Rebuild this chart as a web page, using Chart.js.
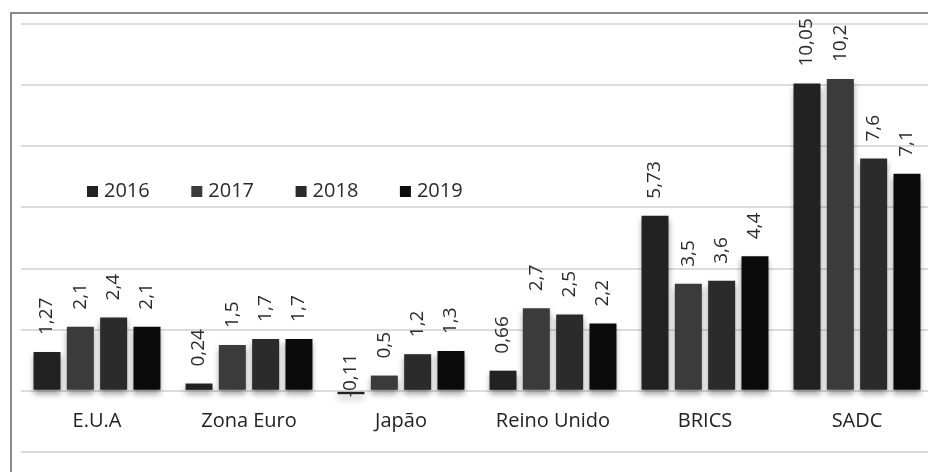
<!DOCTYPE html>
<html>
<head>
<meta charset="utf-8">
<script src="https://cdn.jsdelivr.net/npm/chart.js@4/dist/chart.umd.min.js"></script>
<style>
  html, body { margin: 0; padding: 0; background: #fff; overflow: hidden; width: 928px; height: 472px; }
  #wrap { position: relative; width: 940px; height: 472px; }
</style>
</head>
<body>
<div id="wrap"><canvas id="c" width="940" height="472"></canvas></div>
<script>
const categories = ["E.U.A", "Zona Euro", "Japão", "Reino Unido", "BRICS", "SADC"];
const seriesNames = ["2016", "2017", "2018", "2019"];
const values2016 = [1.27, 0.24, -0.11, 0.66, 5.73, 10.05];
const values2017 = [2.1, 1.5, 0.5, 2.7, 3.5, 10.2];
const values2018 = [2.4, 1.7, 1.2, 2.5, 3.6, 7.6];
const values2019 = [2.1, 1.7, 1.3, 2.2, 4.4, 7.1];
const yTicks = [-2, 0, 2, 4, 6, 8, 10, 12];

const colors = ["#222222", "#3b3b3b", "#2b2b2b", "#0b0b0b"];
const allValues = [values2016, values2017, values2018, values2019];

const FONT = "'Open Sans', 'DejaVu Sans', sans-serif";

const frame = {
  id: 'frame',
  beforeDraw(chart) {
    const ctx = chart.ctx;
    ctx.save();
    ctx.strokeStyle = '#8a8a8a';
    ctx.lineWidth = 2;
    ctx.strokeRect(11, 13, 2000, 2000);
    ctx.restore();
  }
};

const shadow = {
  id: 'shadow',
  beforeDatasetsDraw(chart) {
    const ctx = chart.ctx;
    ctx.save();
    ctx.shadowColor = 'rgba(0,0,0,0.38)';
    ctx.shadowBlur = 6;
    ctx.shadowOffsetX = 0;
    ctx.shadowOffsetY = 4;
  },
  afterDatasetsDraw(chart) {
    chart.ctx.restore();
    const ctx = chart.ctx;
    ctx.save();
    ctx.font = "19px " + FONT;
    ctx.fillStyle = '#2a2a2a';
    ctx.textBaseline = 'middle';
    ctx.textAlign = 'left';
    chart.data.datasets.forEach((ds, di) => {
      const meta = chart.getDatasetMeta(di);
      meta.data.forEach((el, i) => {
        const v = ds.data[i];
        const txt = String(v).replace('.', ',');
        ctx.save();
        if (v >= 0) {
          ctx.translate(el.x, el.y - 17);
        } else {
          ctx.translate(el.x, el.y + 3);
        }
        ctx.rotate(-Math.PI / 2);
        ctx.fillText(txt, 0, 0);
        ctx.restore();
      });
    });
    ctx.restore();
  }
};

const legendPlugin = {
  id: 'customLegend',
  afterDraw(chart) {
    const ctx = chart.ctx;
    ctx.save();
    ctx.font = "20px " + FONT;
    ctx.textBaseline = 'middle';
    ctx.textAlign = 'left';
    chart.data.datasets.forEach((ds, i) => {
      const x = 87 + i * 104.3;
      const y = 191.5;
      ctx.fillStyle = ds.backgroundColor;
      ctx.fillRect(x, y - 5.5, 11, 11);
      ctx.fillStyle = '#2a2a2a';
      ctx.fillText(ds.label, x + 17, y);
    });
    ctx.restore();
  }
};

new Chart(document.getElementById('c'), {
  type: 'bar',
  data: {
    labels: categories,
    datasets: seriesNames.map((name, i) => ({
      label: name,
      data: allValues[i],
      backgroundColor: colors[i],
      borderWidth: 0,
      categoryPercentage: 0.877,
      barPercentage: 0.81
    }))
  },
  options: {
    responsive: false,
    animation: false,
    devicePixelRatio: 1,
    layout: { padding: { left: 21, right: 7, top: 24, bottom: 20 } },
    plugins: { legend: { display: false }, tooltip: { enabled: false } },
    scales: {
      x: {
        position: { y: 0 },
        grid: { display: false, drawTicks: false },
        border: { display: false },
        ticks: { color: '#222222', font: { family: FONT, size: 20 }, padding: 18, maxRotation: 0, autoSkip: false }
      },
      y: {
        min: yTicks[0],
        max: yTicks[yTicks.length - 1],
        afterBuildTicks: (s) => { s.ticks = yTicks.map(v => ({ value: v })); },
        afterFit: (s) => { s.width = 0; },
        grid: { color: '#dcdcdc', lineWidth: 2, drawTicks: false },
        border: { display: false },
        ticks: { display: false }
      }
    }
  },
  plugins: [frame, shadow, legendPlugin]
});
</script>
</body>
</html>
